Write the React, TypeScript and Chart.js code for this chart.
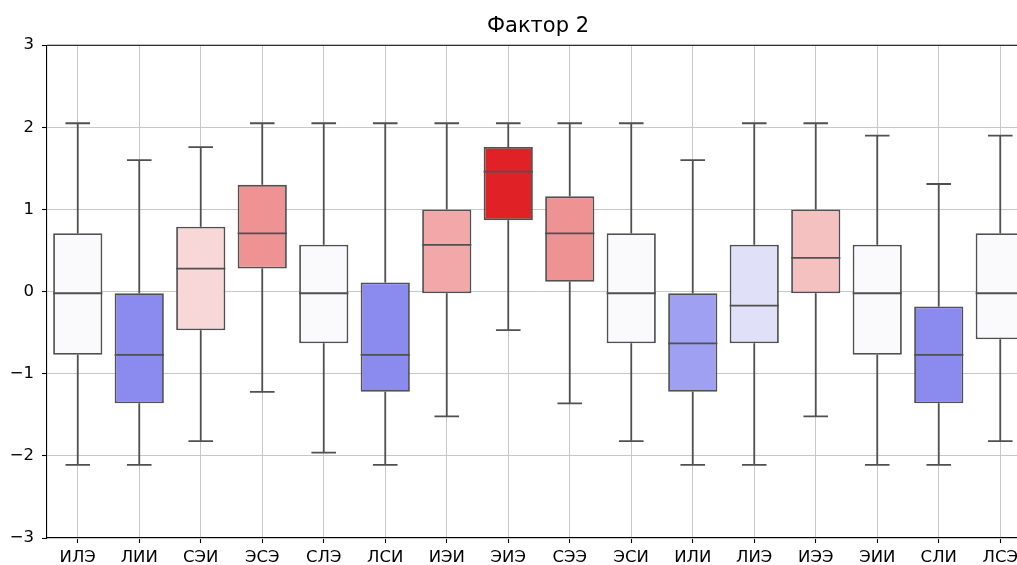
import React, { useEffect, useRef } from "react";
import { Chart, registerables } from "chart.js";

Chart.register(...registerables);

const categories = ["ИЛЭ", "ЛИИ", "СЭИ", "ЭСЭ", "СЛЭ", "ЛСИ", "ИЭИ", "ЭИЭ", "СЭЭ", "ЭСИ", "ИЛИ", "ЛИЭ", "ИЭЭ", "ЭИИ", "СЛИ", "ЛСЭ"];
const whiskerLow = [-2.11, -2.11, -1.82, -1.22, -1.96, -2.11, -1.52, -0.47, -1.36, -1.82, -2.11, -2.11, -1.52, -2.11, -2.11, -1.82];
const q1 = [-0.77, -1.36, -0.47, 0.28, -0.63, -1.22, -0.02, 0.87, 0.12, -0.63, -1.22, -0.63, -0.02, -0.77, -1.36, -0.58];
const median = [-0.02, -0.77, 0.28, 0.71, -0.02, -0.77, 0.57, 1.46, 0.71, -0.02, -0.63, -0.17, 0.41, -0.02, -0.77, -0.02];
const q3 = [0.71, -0.02, 0.79, 1.3, 0.57, 0.11, 1.0, 1.76, 1.16, 0.71, -0.02, 0.57, 1.0, 0.57, -0.18, 0.71];
const whiskerHigh = [2.05, 1.6, 1.76, 2.05, 2.05, 2.05, 2.05, 2.05, 2.05, 2.05, 1.6, 2.05, 2.05, 1.9, 1.31, 1.9];
const yTicks = [-3, -2, -1, 0, 1, 2, 3];
const title = "Фактор 2";

const boxColors = ["#fafafc", "#8a8aef", "#f7d7d7", "#ef9293", "#fafafc", "#8a8aef", "#f2a8a8", "#e02226", "#ef9293", "#fafafc", "#a0a0f2", "#e0e0f9", "#f4c0c0", "#fafafc", "#8a8aef", "#fafafc"];
const LINE = "#505050";
const LW = 1.8;

const boxPlugin = {
  id: "boxExtras",
  afterDatasetsDraw(chart: any) {
    const ctx = chart.ctx;
    const xs = chart.scales.x;
    const ys = chart.scales.y;
    const meta = chart.getDatasetMeta(0);
    ctx.save();
    ctx.strokeStyle = LINE;
    ctx.lineWidth = LW;
    ctx.lineCap = "butt";
    categories.forEach((_, i) => {
      const x = xs.getPixelForValue(i);
      const bar = meta.data[i];
      const half = bar ? bar.width / 2 : 24;
      const capHalf = half / 2;
      const yLo = ys.getPixelForValue(whiskerLow[i]);
      const yQ1 = ys.getPixelForValue(q1[i]);
      const yQ3 = ys.getPixelForValue(q3[i]);
      const yHi = ys.getPixelForValue(whiskerHigh[i]);
      const yMed = ys.getPixelForValue(median[i]);
      ctx.beginPath();
      ctx.moveTo(x, yQ1);
      ctx.lineTo(x, yLo);
      ctx.moveTo(x - capHalf, yLo);
      ctx.lineTo(x + capHalf, yLo);
      ctx.moveTo(x, yQ3);
      ctx.lineTo(x, yHi);
      ctx.moveTo(x - capHalf, yHi);
      ctx.lineTo(x + capHalf, yHi);
      ctx.moveTo(x - half, yMed);
      ctx.lineTo(x + half, yMed);
      ctx.stroke();
    });
    const a = chart.chartArea;
    ctx.strokeStyle = "#000";
    ctx.lineWidth = 1.1;
    ctx.beginPath();
    ctx.moveTo(a.left, a.top);
    ctx.lineTo(a.right, a.top);
    ctx.lineTo(a.right, a.bottom);
    ctx.stroke();
    ctx.restore();
  },
};

export default function App() {
  const ref = useRef<HTMLCanvasElement | null>(null);
  useEffect(() => {
    if (!ref.current) return;
    const chart = new Chart(ref.current, {
      type: "bar",
      data: {
        labels: categories,
        datasets: [
          {
            data: categories.map((_, i) => [q1[i], q3[i]]) as any,
            backgroundColor: boxColors,
            borderColor: LINE,
            borderWidth: LW,
            borderSkipped: false,
            barPercentage: 0.8,
            categoryPercentage: 1.0,
          },
        ],
      },
      options: {
        responsive: false,
        animation: false,
        devicePixelRatio: 1,
        layout: { padding: 0 },
        plugins: {
          legend: { display: false },
          tooltip: { enabled: false },
          title: {
            display: true,
            text: title,
            color: "#000",
            font: { family: "DejaVu Sans", size: 21, weight: "normal" },
            padding: { top: 14, bottom: 6 },
          },
        },
        scales: {
          x: {
            type: "category",
            offset: true,
            grid: { offset: false, color: "#c8c8c8", lineWidth: 1, tickColor: "#000", tickLength: 5, tickWidth: 1.1 },
            border: { display: true, color: "#000", width: 1.1 },
            ticks: { color: "#000", font: { family: "DejaVu Sans", size: 16.5 }, padding: 5, maxRotation: 0, autoSkip: false },
            afterFit: (s: any) => { s.height = 27; },
          },
          y: {
            min: -3,
            max: 3,
            afterBuildTicks: (s: any) => { s.ticks = yTicks.map((v) => ({ value: v })); },
            grid: { color: "#c8c8c8", lineWidth: 1, tickColor: "#000", tickLength: 5, tickWidth: 1.1 },
            border: { display: true, color: "#000", width: 1.1 },
            ticks: {
              color: "#000",
              font: { family: "DejaVu Sans", size: 16.5 },
              padding: 8,
              callback: (v: any) => (Number(v) < 0 ? "\u2212" + Math.abs(Number(v)) : String(v)),
            },
            afterFit: (s: any) => { s.width = 47; },
          },
          yRight: {
            position: "right",
            min: -3,
            max: 3,
            grid: { display: false, drawTicks: false },
            border: { display: false },
            ticks: { display: false },
            afterFit: (s: any) => { s.width = 45; },
          },
        },
      },
      plugins: [boxPlugin],
    });
    return () => chart.destroy();
  }, []);
  return (
    <div style={{ position: "fixed", left: 0, top: 0, width: 1017, height: 565, overflow: "hidden", background: "#fff" }}>
      <canvas ref={ref} width={1076} height={565} style={{ width: 1076, height: 565, display: "block" }} />
    </div>
  );
}
